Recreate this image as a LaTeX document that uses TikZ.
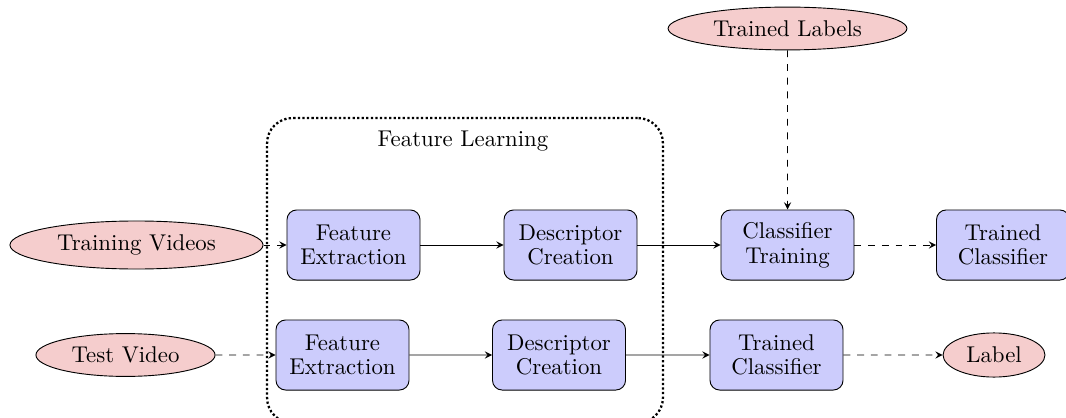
\documentclass[tikz,border=0pt]{standalone}
\usepackage{tikz}
\usetikzlibrary{shapes.geometric,arrows}

\definecolor{datapink}{RGB}{245,205,205}
\definecolor{blockblue}{RGB}{204,204,252}

\begin{document}
\begin{tikzpicture}[scale=0.1541, >=stealth]
\tikzstyle{block}=[draw, fill=blockblue, rounded corners=0.15cm, minimum width=2.05cm, minimum height=1.08cm, align=center, font=\fontsize{10}{10.8}\selectfont]
\tikzstyle{data}=[draw, ellipse, fill=datapink, inner sep=0pt]
\useasboundingbox (0,0) rectangle (106.6,-41.7);
% feature learning frame
\node (learning) [draw, densely dotted, line width=1pt, rounded corners=0.39cm, minimum width=6.1cm, minimum height=4.7cm] at (46.5,-27.05) {};
\node (learntitle) at (46.3,-14.1) {Feature Learning};
% inputs and outputs
\node (trainvid) [data, minimum width=3.9cm, minimum height=0.74cm] at (13.65,-24.5) {Training Videos};
\node (testvid) [data, minimum width=2.76cm, minimum height=0.66cm] at (12.55,-35.5) {Test Video};
\node (labels) [data, minimum width=3.68cm, minimum height=0.66cm] at (78.75,-2.85) {Trained Labels};
\node (label) [data, minimum width=1.57cm, minimum height=0.68cm] at (99.4,-35.5) {Label};
% training row
\node (extract1) [block] at (35.35,-24.5) {Feature\\Extraction};
\node (descr1) [block] at (57.05,-24.5) {Descriptor\\Creation};
\node (train) [block] at (78.75,-24.5) {Classifier\\Training};
\node (classif1) [block] at (100.3,-24.5) {Trained\\Classifier};
% test row
\node (extract2) [block] at (34.25,-35.5) {Feature\\Extraction};
\node (descr2) [block] at (55.9,-35.5) {Descriptor\\Creation};
\node (classif2) [block] at (77.65,-35.5) {Trained\\Classifier};
% connections
\draw [->, dashed] (trainvid) -- (extract1);
\draw [->] (extract1) -- (descr1);
\draw [->] (descr1) -- (train);
\draw [->, dashed] (labels) -- (train);
\draw [->, dashed] (train) -- (classif1);
\draw [->, dashed] (testvid) -- (extract2);
\draw [->] (extract2) -- (descr2);
\draw [->] (descr2) -- (classif2);
\draw [->, dashed] (classif2) -- (label);
\end{tikzpicture}
\end{document}
